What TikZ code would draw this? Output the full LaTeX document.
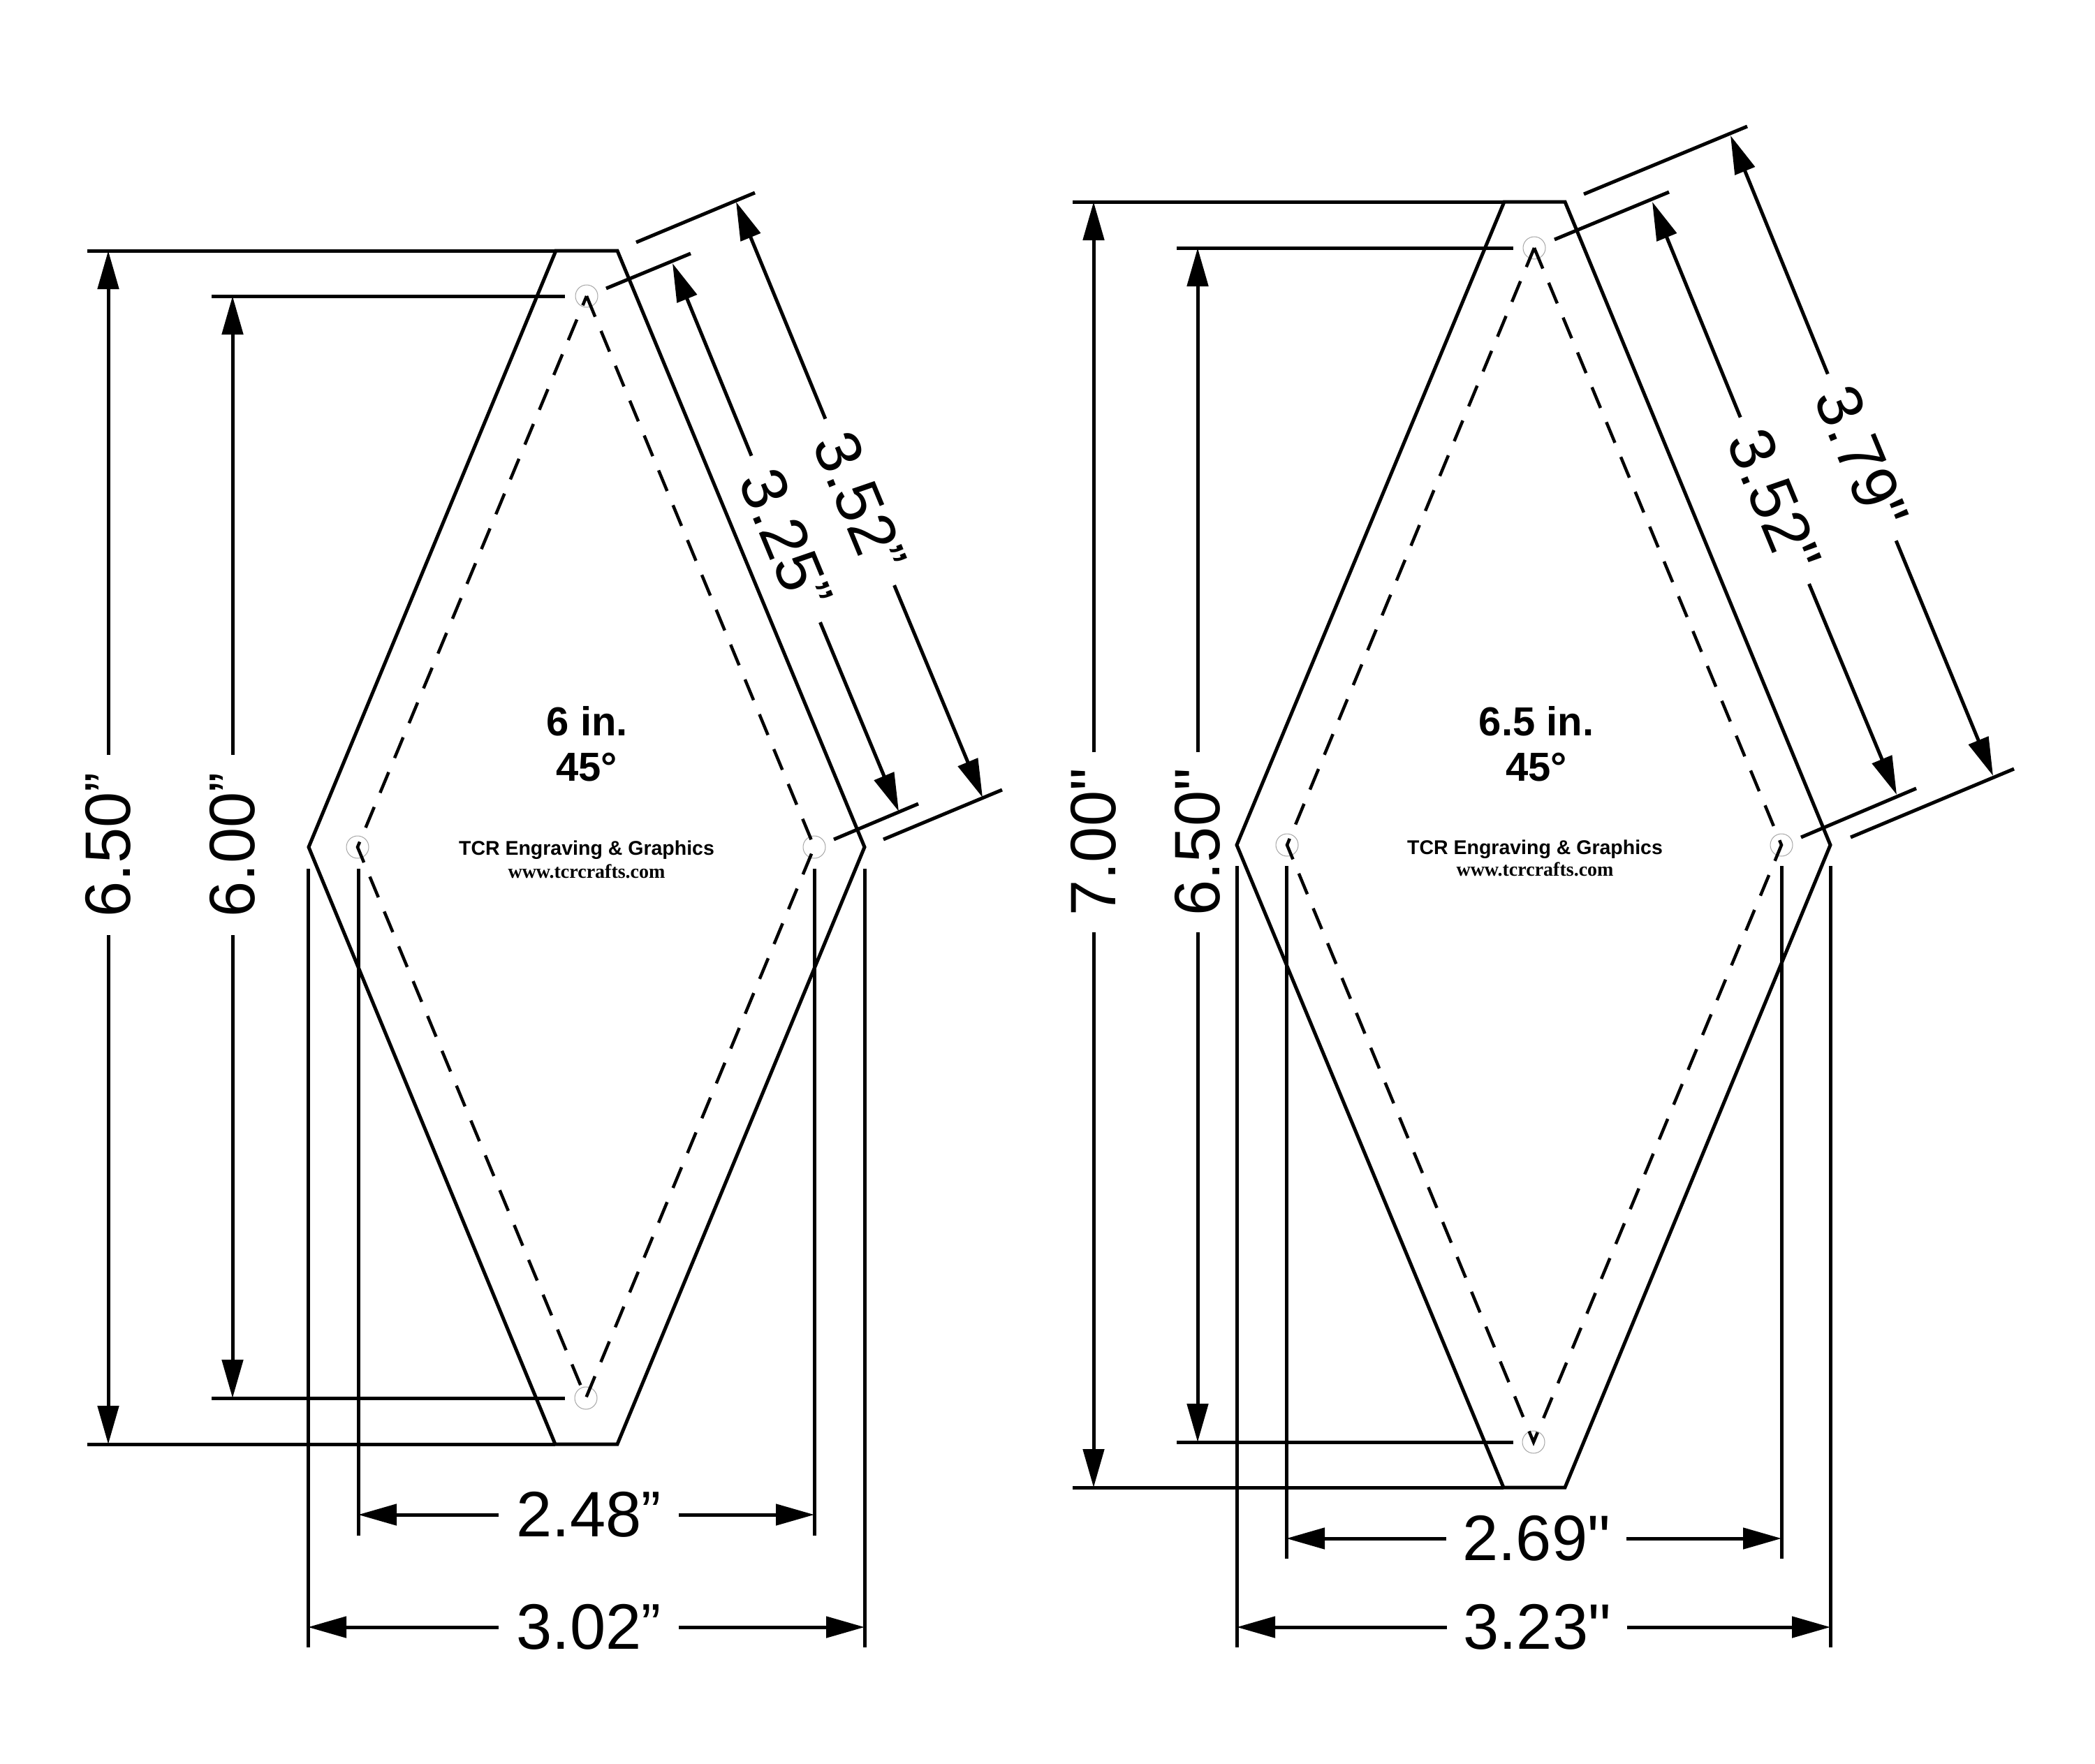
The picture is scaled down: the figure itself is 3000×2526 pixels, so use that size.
\documentclass[tikz,border=0pt]{standalone}
\usepackage{fontspec}
\setmainfont{Liberation Sans}
\newfontfamily\plainfont{Liberation Sans}
\newfontfamily\urlfont{Liberation Serif}
\usetikzlibrary{arrows.meta}
\newcommand{\curlyq}{\raisebox{6pt}{\fontsize{84}{84}\selectfont ”}}
\tikzset{
    outline/.style={line width=5pt, line join=miter},
    extline/.style={line width=5pt},
    dashline/.style={line width=4.5pt, dash pattern=on 32pt off 22pt},
    dimline/.style={line width=5pt, shorten <=129pt, -{Triangle[length=55pt,width=30pt]}},
    hole/.style={circle, draw=black!35, line width=1pt, fill=white, minimum size=32pt, inner sep=0pt},
    dimlabel/.style={inner sep=0pt, font=\plainfont\fontsize{92}{92}\selectfont},
    sizelabel/.style={inner sep=0pt, font=\fontsize{58}{58}\selectfont\bfseries},
    maker/.style={inner sep=0pt, font=\fontsize{28.5}{28.5}\selectfont\bfseries},
    website/.style={inner sep=0pt, font=\fontsize{28}{28}\selectfont\urlfont\bfseries}
}
\begin{document}
\begin{tikzpicture}[x=1pt, y=-1pt]
    \path[use as bounding box] (0,0) rectangle (3000,2526);

    \coordinate (la) at (796,359);
    \coordinate (lb) at (884,359);
    \coordinate (lc) at (1238,1213);
    \coordinate (ld) at (884,2068);
    \coordinate (le) at (795,2068);
    \coordinate (lf) at (442,1213);
    \node[hole] (lhtop) at (840,424) {};
    \node[hole] (lhright) at (1166,1213) {};
    \node[hole] (lhbot) at (839,2002) {};
    \node[hole] (lhleft) at (512,1213) {};

    \draw[outline] (la) -- (lb) -- (lc) -- (ld) -- (le) -- (lf) -- cycle;
    \draw[dashline] (lhtop.center) -- (lhright.center) -- (lhbot.center) -- (lhleft.center) -- cycle;

    \draw[extline] (125,359) -- (la);
    \draw[extline] (125,2068) -- (le);
    \draw[extline] (303,424) -- (809,424);
    \draw[extline] (303,2002) -- (809,2002);
    \draw[extline] (441,1244) -- (441,2359);
    \draw[extline] (513,1244) -- (513,2199);
    \draw[extline] (1166,1244) -- (1166,2199);
    \draw[extline] (1238,1244) -- (1238,2359);
    \draw[extline] (911,347) -- (1081,276);
    \draw[extline] (1265,1202) -- (1435,1131);
    \draw[extline] (868,413) -- (989,363);
    \draw[extline] (1194,1202) -- (1315,1151);

    \node[dimlabel, rotate=90] (lh65) at (155,1210) {6.50\curlyq};
    \node[dimlabel, rotate=90] (lh60) at (333,1210) {6.00\curlyq};
    \node[dimlabel] (lw248) at (843,2169) {2.48\curlyq};
    \node[dimlabel] (lw302) at (843,2330) {3.02\curlyq};
    \node[dimlabel, rotate=-67.5] (ls352) at (1231,719) {3.52\curlyq};
    \node[dimlabel, rotate=-67.5] (ls325) at (1125,772) {3.25\curlyq};

    \draw[dimline] (lh65.center) -- (155,359);
    \draw[dimline] (lh65.center) -- (155,2068);
    \draw[dimline] (lh60.center) -- (333,424);
    \draw[dimline] (lh60.center) -- (333,2002);
    \draw[dimline] (lw248.center) -- (513,2169);
    \draw[dimline] (lw248.center) -- (1166,2169);
    \draw[dimline] (lw302.center) -- (441,2330);
    \draw[dimline] (lw302.center) -- (1238,2330);
    \draw[dimline] (ls352.center) -- (1054,289);
    \draw[dimline] (ls352.center) -- (1407,1142);
    \draw[dimline] (ls325.center) -- (963,377);
    \draw[dimline] (ls325.center) -- (1287,1162);

    \node[sizelabel] (lsize) at (841,1033) {6 in.};
    \node[sizelabel] (langle) at (840,1099) {45°};
    \node[maker] (lmaker) at (840,1217) {TCR Engraving \& Graphics};
    \node[website] (lweb) at (840,1248) {www.tcrcrafts.com};

    \coordinate (ra) at (2154,289);
    \coordinate (rb) at (2241,289);
    \coordinate (rc) at (2621,1210);
    \coordinate (rd) at (2241,2130);
    \coordinate (re) at (2153,2130);
    \coordinate (rf) at (1771,1210);
    \node[hole] (rhtop) at (2197,355) {};
    \node[hole] (rhright) at (2551,1210) {};
    \node[hole] (rhbot) at (2196,2065) {};
    \node[hole] (rhleft) at (1843,1210) {};

    \draw[outline] (ra) -- (rb) -- (rc) -- (rd) -- (re) -- (rf) -- cycle;
    \draw[dashline] (rhtop.center) -- (rhright.center) -- (rhbot.center) -- (rhleft.center) -- cycle;

    \draw[extline] (1536,289) -- (ra);
    \draw[extline] (1536,2130) -- (re);
    \draw[extline] (1685,355) -- (2167,355);
    \draw[extline] (1685,2065) -- (2167,2065);
    \draw[extline] (1771,1240) -- (1771,2359);
    \draw[extline] (1842,1240) -- (1842,2232);
    \draw[extline] (2551,1240) -- (2551,2232);
    \draw[extline] (2621,1240) -- (2621,2359);
    \draw[extline] (2268,278) -- (2502,181);
    \draw[extline] (2650,1199) -- (2884,1101);
    \draw[extline] (2226,343) -- (2390,275);
    \draw[extline] (2579,1199) -- (2744,1129);

    \node[dimlabel, rotate=90] (rh70) at (1566,1206) {7.00"};
    \node[dimlabel, rotate=90] (rh65) at (1715,1206) {6.50"};
    \node[dimlabel] (rw269) at (2200,2203) {2.69"};
    \node[dimlabel] (rw323) at (2201,2330) {3.23"};
    \node[dimlabel, rotate=-67.5] (rs379) at (2666,655) {3.79"};
    \node[dimlabel, rotate=-67.5] (rs352) at (2541,717) {3.52"};

    \draw[dimline] (rh70.center) -- (1566,289);
    \draw[dimline] (rh70.center) -- (1566,2130);
    \draw[dimline] (rh65.center) -- (1715,355);
    \draw[dimline] (rh65.center) -- (1715,2065);
    \draw[dimline] (rw269.center) -- (1842,2203);
    \draw[dimline] (rw269.center) -- (2551,2203);
    \draw[dimline] (rw323.center) -- (1771,2330);
    \draw[dimline] (rw323.center) -- (2621,2330);
    \draw[dimline] (rs379.center) -- (2478,194);
    \draw[dimline] (rs379.center) -- (2854,1111);
    \draw[dimline] (rs352.center) -- (2366,289);
    \draw[dimline] (rs352.center) -- (2716,1138);

    \node[sizelabel] (rsize) at (2200,1033) {6.5 in.};
    \node[sizelabel] (rangle) at (2200,1099) {45°};
    \node[maker] (rmaker) at (2198,1216) {TCR Engraving \& Graphics};
    \node[website] (rweb) at (2198,1245) {www.tcrcrafts.com};
\end{tikzpicture}
\end{document}
